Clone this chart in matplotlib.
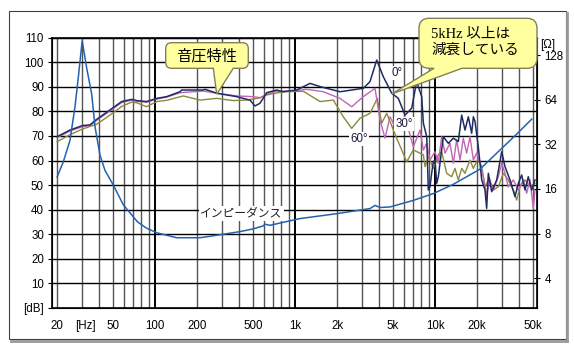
import numpy as np
import matplotlib
matplotlib.use('Agg')
import matplotlib.pyplot as plt
from matplotlib.path import Path
from matplotlib.patches import PathPatch, Rectangle
from matplotlib.transforms import IdentityTransform
from matplotlib.lines import Line2D
from matplotlib.ticker import NullLocator

plt.rcParams['font.family'] = ['Liberation Sans', 'Noto Sans CJK JP', 'DejaVu Sans']

# impedance (Hz, ohm)
imp_freq = [20, 22.1, 24.7, 26.8, 28.3, 30.2, 32.5, 35.3, 37.3, 40.5, 43.9, 50.4, 59.4, 75, 87,
            103, 143, 210, 291, 405, 501, 590, 611, 663, 1086, 1985, 3433, 3730, 4050, 4770,
            7000, 9730, 13500, 21000, 29100, 38400, 49100]
imp_ohm = [19.3, 24.3, 34, 57, 90, 160, 105, 70, 42, 27, 21.4, 17, 12.5, 9.6, 8.7,
           8.1, 7.5, 7.5, 7.85, 8.25, 8.6, 9.0, 9.25, 9.1, 10.1, 10.9, 11.8, 12.4, 12.0, 12.1,
           13.4, 14.9, 17.2, 21.8, 29.3, 37.6, 47.4]

# SPL 0 deg
f0 = [20, 24.7, 30.3, 34.3, 38.4, 47.7, 57.8, 68.2, 74, 87, 103, 121, 151, 155, 221, 228, 276,
      383, 477, 518, 562, 628, 740, 825, 921, 1028, 1280, 1510, 2096, 3076, 3433, 3834, 4274,
      4906, 5471, 6105, 6817, 7396, 8035, 8260, 8726, 8959, 9204, 9463, 9728, 10000, 10280,
      10560, 11460, 12450, 13520, 14670, 15510, 16380, 17300, 18280, 18790, 19310, 20380,
      21560, 22760, 23390, 24040, 25390, 27590, 29950, 31620, 34340, 37260, 39370, 41590,
      43940, 46370, 49060, 51790]
s0 = [69.7, 72.4, 74.2, 74.5, 76.8, 80.6, 84.0, 84.9, 84.4, 84.0, 85.3, 86.0, 88.0, 88.7, 88.7,
      89.0, 87.4, 86.0, 84.6, 82.2, 83.3, 87.6, 88.7, 88.0, 88.4, 88.7, 91.4, 90.1, 88.0, 89.4,
      92.1, 100.9, 94.1, 87.4, 85.3, 78.5, 81.3, 92.1, 86.0, 75.2, 69.7, 48.0, 49.3, 54.8, 59.5,
      60.2, 50.7, 53.4, 69.7, 67.0, 69.1, 67.7, 78.5, 72.4, 77.8, 71.1, 77.8, 75.9, 65.6, 52.1,
      48.0, 40.5, 54.8, 47.3, 52.1, 63.6, 57.5, 52.1, 45.3, 50.7, 54.1, 48.0, 53.4, 48.0, 52.1]

# SPL 30 deg
f30 = [20, 24.7, 30.3, 34.3, 38.4, 47.7, 57.8, 68.2, 74, 87, 103, 121, 151, 221, 276, 383, 501,
       562, 628, 740, 921, 1213, 1592, 2096, 2541, 3076, 3728, 4047, 4394, 4772, 5325, 6105,
       7000, 7820, 8260, 8726, 9204, 10000, 10560, 11160, 11780, 12800, 13520, 14280, 15090,
       15930, 16830, 17780, 18790, 19850, 20960, 22130, 23390, 24700, 26080, 28330, 29950,
       31620, 33420, 36260, 39370, 42750, 45160, 47730, 50350, 51790]
s30 = [69.3, 72.0, 73.8, 74.2, 76.4, 80.2, 83.6, 84.6, 84.1, 83.7, 85.0, 85.8, 87.6, 88.3, 87.4,
       86.3, 86.0, 85.6, 87.0, 88.2, 88.2, 89.0, 88.0, 85.3, 81.9, 86.0, 89.4, 76.5, 69.1, 77.8,
       72.4, 77.8, 65.6, 72.4, 64.3, 67.0, 60.2, 63.6, 58.9, 69.7, 63.0, 67.0, 58.9, 68.4, 60.2,
       69.1, 63.0, 69.7, 60.2, 63.0, 58.9, 53.4, 46.0, 52.1, 48.0, 53.4, 58.9, 54.8, 49.3, 52.1,
       48.0, 52.1, 46.7, 52.1, 40.5, 48.0]

# SPL 60 deg
f60 = [20, 24.7, 30.3, 38.4, 47.7, 57.8, 68.2, 74, 87, 103, 121, 159, 210, 276, 362, 452, 562,
       628, 825, 1146, 1510, 1878, 2213, 2541, 2911, 3433, 3870, 4160, 4518, 5325, 6277, 7000,
       8260, 8487, 8959, 9728, 10560, 11160, 12120, 13150, 13890, 14670, 15510, 16380, 17780,
       18790, 20380, 21560, 22760, 24040, 26080, 28330, 30780, 33420, 36260, 38350, 40470,
       43940, 47730, 51790]
s60 = [67.7, 70.5, 72.8, 74.8, 78.5, 82.0, 83.8, 83.5, 81.9, 84.0, 84.5, 86.3, 84.6, 85.3, 84.4,
       84.6, 85.5, 86.7, 88.0, 88.2, 84.0, 84.6, 77.8, 73.1, 77.2, 79.2, 85.3, 75.2, 79.2, 69.1,
       59.5, 64.3, 62.3, 57.5, 61.6, 56.8, 62.3, 63.6, 54.8, 53.4, 56.8, 52.1, 56.8, 54.8, 60.2,
       56.8, 60.9, 57.5, 49.3, 52.1, 48.0, 49.3, 54.8, 52.1, 48.0, 43.9, 49.3, 52.1, 49.3, 50.7]

x_ticks = [20, 31.6, 50, 100, 200, 500, 1000, 2000, 5000, 10000, 20000, 50000]
x_labels = ['20', '[Hz]', '50', '100', '200', '500', '1k', '2k', '5k', '10k', '20k', '50k']
db_ticks = list(range(0, 120, 10))
db_labels = ['[dB]'] + [str(v) for v in db_ticks[1:]]
ohm_ticks = [4, 8, 16, 32, 64, 128]

W, H = 574, 351
fig = plt.figure(figsize=(W / 100, H / 100), dpi=100)
fig.patch.set_facecolor('white')

# outer frame with shadow
fig.add_artist(Line2D([11 / W, 567 / W], [1 - 340.5 / H, 1 - 340.5 / H], color='#999999', lw=2))
fig.add_artist(Line2D([567 / W, 567 / W], [1 - 13 / H, 1 - 340.5 / H], color='#999999', lw=2))
fig.add_artist(Rectangle((9.3 / W, 1 - 339.3 / H), (565.5 - 9.3) / W, (339.3 - 11) / H,
                         transform=fig.transFigure, fill=False, ec='#404040', lw=0.8))

ax = fig.add_axes([52.3 / W, 1 - 307.9 / H, (536.7 - 52.3) / W, (307.9 - 37.7) / H])
ax.set_xscale('log')
ax.set_xlim(18.47, 53260)
ax.set_ylim(0, 110)
ax.set_facecolor('white')

# grid
for dec in [10, 100, 1000, 10000]:
    for m in range(1, 10):
        f = dec * m
        if f < 20 or f > 50000:
            continue
        if m == 1:
            ax.axvline(f, color='black', lw=1.4, zorder=1)
        else:
            ax.axvline(f, color='#555555', lw=1.0, zorder=1)
for v in db_ticks[1:]:
    ax.axhline(v, color='black', lw=1.0, zorder=1)

ax.plot(f60, s60, color='#8a8a3c', lw=1.0, zorder=3)
ax.plot(f30, s30, color='#c464b4', lw=1.0, zorder=3)
ax.plot(f0, s0, color='#1e2c64', lw=1.1, zorder=4)

ax.set_xticks(x_ticks)
ax.set_xticklabels(x_labels)
ax.xaxis.set_minor_locator(NullLocator())
ax.tick_params(axis='x', length=0, pad=9, labelsize=8.3)
ax.set_yticks(db_ticks)
ax.set_yticklabels(db_labels)
ax.tick_params(axis='y', length=3, pad=3, labelsize=8.3)
for s in ax.spines.values():
    s.set_linewidth(1.2)
    s.set_color('black')

ax2 = ax.twinx()
ax2.set_yscale('log', base=2)
ax2.set_ylim(2.52, 168)
ax2.plot(imp_freq, imp_ohm, color='#2462b0', lw=1.1, zorder=3)
ax2.set_yticks(ohm_ticks)
ax2.set_yticklabels([str(v) for v in ohm_ticks])
ax2.yaxis.set_minor_locator(NullLocator())
ax2.tick_params(axis='y', length=5, direction='inout', pad=3, labelsize=8.3)
ax2.text(1.008, 0.973, '[Ω]', transform=ax2.transAxes, fontsize=8.3, ha='left', va='center')

lab = dict(transform=ax.transData, ha='center', va='center', zorder=6,
           bbox=dict(boxstyle='square,pad=0.1', fc='white', ec='none'))
ax2.text(415, 38.5, 'インピーダンス', fontsize=8.5, color='#222222', **lab)
ax2.text(5326, 95.5, '0°', fontsize=8.3, color='#1a1a3a', **lab)
ax2.text(6005, 74.9, '30°', fontsize=8.3, color='#1a1a3a', **lab)
ax2.text(2865, 68.8, '60°', fontsize=8.3, color='#1a1a3a', **lab)


def callout(L, T, R, B, xa, xb, tip, r):
    # box given in pixels from the top-left, tip in data coordinates
    yb, yt = H - B, H - T
    tx, ty = ax.transData.transform(tip)
    verts = [(L + r, yb), (xa, yb), (tx, ty), (xb, yb), (R - r, yb),
             (R, yb), (R, yb + r), (R, yt - r), (R, yt), (R - r, yt),
             (L + r, yt), (L, yt), (L, yt - r), (L, yb + r), (L, yb), (L + r, yb), (L + r, yb)]
    codes = [Path.MOVETO, Path.LINETO, Path.LINETO, Path.LINETO, Path.LINETO,
             Path.CURVE3, Path.CURVE3, Path.LINETO, Path.CURVE3, Path.CURVE3,
             Path.LINETO, Path.CURVE3, Path.CURVE3, Path.LINETO, Path.CURVE3, Path.CURVE3,
             Path.CLOSEPOLY]
    fig.add_artist(PathPatch(Path(verts, codes), transform=IdentityTransform(),
                             fc='#ffffa0', ec='#80805a', lw=1.0, zorder=10))


callout(165.7, 42.7, 248.3, 68.3, 213.3, 233.3, (276, 87.0), 6)
fig.text(206.5 / W, 1 - 56 / H, '音圧特性', fontsize=11, ha='center', va='center', zorder=11,
         family=['Noto Sans CJK JP'])

callout(419, 18.3, 537, 68.3, 434, 462, (4906, 87.1), 10)
fig.text(431 / W, 1 - 33.5 / H, '5kHz 以上は', fontsize=10.5, ha='left', va='center', zorder=11,
         family=['Liberation Serif', 'Noto Sans CJK JP'])
fig.text(431 / W, 1 - 50 / H, '減衰している', fontsize=10.5, ha='left', va='center', zorder=11,
         family=['Noto Sans CJK JP'])

fig.savefig('out.png', dpi=100, facecolor='white')
